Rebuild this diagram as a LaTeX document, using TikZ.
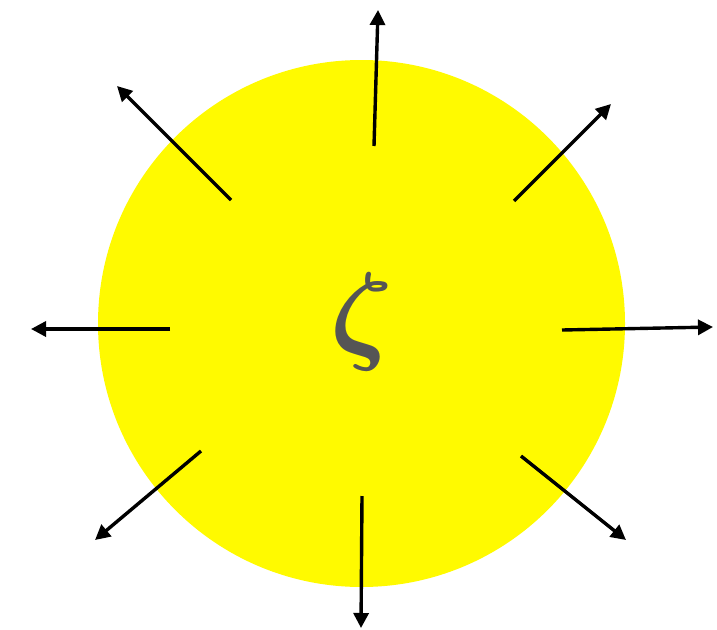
\documentclass[tikz,border=0pt]{standalone}
\usetikzlibrary{arrows.meta}
\definecolor{sunyellow}{RGB}{255,250,0}
\definecolor{zetagray}{RGB}{85,85,85}
\begin{document}
\begin{tikzpicture}[x=1pt,y=-1pt,
  ray/.style={line width=3.4pt,-{Triangle[length=15pt,width=15pt]}}]
\useasboundingbox (0,0) rectangle (717,629);
\fill[sunyellow] (361.5,323.5) circle (263.5);
\node[text=zetagray,inner sep=0pt] (z) at (362,322) {\scalebox{11}{\boldmath$\zeta$}};
\coordinate (a1) at (374,146); \coordinate (b1) at (378,10);
\coordinate (a2) at (514,201); \coordinate (b2) at (611,104);
\coordinate (a3) at (562,330); \coordinate (b3) at (713,327);
\coordinate (a4) at (521,456); \coordinate (b4) at (626,540);
\coordinate (a5) at (362,496); \coordinate (b5) at (361,628);
\coordinate (a6) at (201,451); \coordinate (b6) at (95,540);
\coordinate (a7) at (170,329); \coordinate (b7) at (31,329);
\coordinate (a8) at (231,200); \coordinate (b8) at (117,86);
\foreach \i in {1,...,8} \draw[ray] (a\i) -- (b\i);
\end{tikzpicture}
\end{document}
